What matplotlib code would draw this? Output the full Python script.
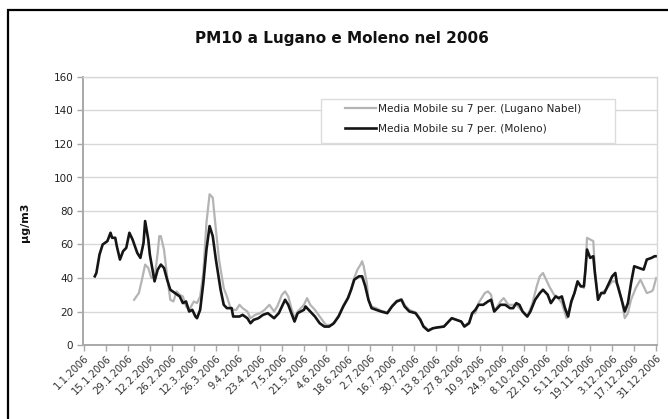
import matplotlib
matplotlib.use("Agg")
import matplotlib.pyplot as plt
from matplotlib.patches import Rectangle
from matplotlib.lines import Line2D

plt.rcParams['font.family'] = ['DejaVu Sans']

title = "PM10 a Lugano e Moleno nel 2006"
ylabel = "µg/m3"
label_lugano = "Media Mobile su 7 per. (Lugano Nabel)"
label_moleno = "Media Mobile su 7 per. (Moleno)"

tick_labels = ["1.1.2006", "15.1.2006", "29.1.2006", "12.2.2006", "26.2.2006",
               "12.3.2006", "26.3.2006", "9.4.2006", "23.4.2006", "7.5.2006",
               "21.5.2006", "4.6.2006", "18.6.2006", "2.7.2006", "16.7.2006",
               "30.7.2006", "13.8.2006", "27.8.2006", "10.9.2006", "24.9.2006",
               "8.10.2006", "22.10.2006", "5.11.2006", "19.11.2006", "3.12.2006",
               "17.12.2006", "31.12.2006"]
tick_days = [0, 14, 28, 42, 56, 70, 84, 98, 112, 126, 140, 154, 168, 182, 196,
             210, 224, 238, 252, 266, 280, 294, 308, 322, 336, 350, 364]

moleno_days = [7, 8, 10, 12, 15, 17, 18, 20, 21, 23, 25, 27, 29, 31, 34, 36, 38, 39, 41, 42,
               45, 47, 49, 51, 53, 55, 58, 61, 63, 65, 67, 69, 71, 72, 74, 76, 78, 80, 82, 84,
               87, 89, 91, 94, 95, 97, 99, 101, 104, 106, 108, 111, 114, 117, 121, 124, 128, 130,
               132, 134, 136, 140, 141, 144, 147, 150, 153, 156, 159, 162, 165, 168, 170, 172,
               175, 177, 179, 181, 183, 186, 189, 193, 196, 199, 202, 204, 207, 211, 214, 216,
               219, 222, 225, 229, 232, 234, 237, 240, 242, 245, 247, 249, 251, 254, 257, 259,
               261, 265, 268, 271, 273, 275, 277, 279, 282, 284, 287, 290, 292, 295, 297, 300,
               302, 304, 306, 308, 310, 312, 314, 316, 318, 319, 320, 322, 324, 325, 327, 329,
               331, 333, 336, 338, 339, 342, 344, 346, 348, 350, 353, 356, 358, 361, 363, 364]
moleno_vals = [41, 43, 54, 60, 62, 67, 64, 64, 59, 51, 56, 58, 67, 63, 55, 52, 61, 74, 63, 54,
               38, 45, 48, 46, 39, 33, 31, 29, 25, 26, 20, 21, 17, 16, 21, 37, 57, 71, 65, 51,
               33, 24, 22, 22, 17, 17, 17, 18, 16, 13, 15, 16, 18, 19, 16, 19, 27, 24,
               19, 14, 19, 21, 23, 20, 17, 13, 11, 11, 13, 17, 23, 28, 33, 39,
               41, 41, 35, 27, 22, 21, 20, 19, 23, 26, 27, 23, 20, 19, 15, 11,
               8.5, 10, 10.5, 11, 14, 16, 15, 14, 11, 13, 19, 21, 24, 24, 26, 27,
               20, 24, 24, 22, 22, 25, 24, 20, 17, 20, 27, 31, 33, 30, 25, 29,
               28, 29, 22, 17, 26, 31, 38, 35, 35, 45, 57, 52, 53, 43, 27, 31,
               31, 35, 41, 43, 37, 27, 20, 25, 37, 47, 46, 45, 51, 52, 53, 53]

lugano_days = [32, 35, 37, 39, 41, 43, 45, 47, 48, 49, 51, 53, 55, 57, 59, 61, 63, 65, 67, 70,
               72, 74, 76, 78, 80, 82, 84, 86, 89, 91, 93, 95, 97, 99, 101, 104, 106, 109, 112,
               115, 118, 121, 123, 126, 128, 130, 132, 134, 136, 140, 142, 144, 147, 150, 154,
               158, 162, 165, 168, 170, 172, 174, 176, 177, 178, 180, 181, 183, 186, 189, 193,
               196, 199, 202, 204, 207, 211, 214, 216, 219, 222, 225, 229, 232, 234, 237, 240,
               242, 245, 247, 249, 251, 255, 257, 259, 261, 265, 267, 270, 275, 279, 282, 285,
               288, 290, 292, 294, 296, 299, 301, 304, 307, 310, 312, 314, 318, 319, 320, 322,
               324, 325, 327, 329, 332, 336, 338, 340, 342, 344, 346, 348, 351, 354, 356, 358,
               361, 362, 364]
lugano_vals = [27, 31, 39, 48, 46, 40, 40, 55, 65, 65, 57, 41, 27, 26, 32, 30, 29, 23, 21, 26,
               25, 29, 43, 73, 90, 88, 69, 51, 34, 29, 23, 21, 21, 24, 22, 20, 16, 18, 19,
               21, 24, 20, 23, 30, 32, 29, 22, 16, 20, 24, 28, 24, 21, 17, 12,
               12, 17.5, 23.5, 28.5, 33.5, 40, 45, 48, 50, 47, 37, 27, 23, 22, 20.5, 19.5,
               23.5, 26.5, 27.5, 24, 21, 19.5, 15.5, 11.5, 9, 10, 10.5, 11, 14, 16, 15, 14,
               11.5, 13.5, 19, 19, 25, 31, 32, 30, 20, 26, 28, 24, 24, 20, 17, 24,
               35, 41, 43, 39, 35, 30, 29, 25, 16, 25, 31, 37, 34, 45, 64, 63,
               62, 45, 27, 31, 33, 38, 38, 35, 27, 16, 19, 27, 34, 39, 35, 31,
               32, 33, 40]

W, H = 668, 419
fig = plt.figure(figsize=(W / 100, H / 100), dpi=100)
fig.patch.set_facecolor("white")

# outer chart frame (cut at right and bottom)
frame_top = 1 - 10 / H
frame = Rectangle((8 / W, -0.2), 1.5, frame_top + 0.2, transform=fig.transFigure,
                  fill=False, edgecolor="black", linewidth=1.6, zorder=0)
fig.patches.append(frame)

ax = fig.add_axes([83 / W, 1 - 345 / H, (657 - 83) / W, (345 - 77) / H])
ax.set_zorder(1)

ax.plot(lugano_days, lugano_vals, color="#b4b4b4", linewidth=1.6, solid_joinstyle="round")
ax.plot(moleno_days, moleno_vals, color="#151515", linewidth=1.9, solid_joinstyle="round")

ax.set_xlim(-0.5, 364.5)
ax.set_ylim(0, 160)
ax.set_yticks(range(0, 161, 20))
ax.set_yticklabels([str(v) for v in range(0, 161, 20)], fontsize=7.5, color="#222222")
ax.set_xticks(tick_days)
ax.set_xticklabels(tick_labels, rotation=45, ha="right", va="top",
                   rotation_mode="anchor", fontsize=7.2, color="#333333")
ax.tick_params(axis="both", direction="out", length=4, width=1, color="#a8a8a8", pad=3)
ax.tick_params(axis="x", pad=2)

ax.grid(axis="y", color="#d8d8d8", linewidth=1)
ax.set_axisbelow(True)
for side in ["left", "bottom"]:
    ax.spines[side].set_color("#a8a8a8")
    ax.spines[side].set_linewidth(1.4)
for side in ["right", "top"]:
    ax.spines[side].set_color("#d8d8d8")
    ax.spines[side].set_linewidth(1.0)

fig.text(342 / W, 1 - 38 / H, title, ha="center", va="center",
         fontsize=11, fontweight="bold", color="#111111")
fig.text(25 / W, 1 - 222 / H, ylabel, ha="center", va="center", rotation=90,
         fontsize=8, fontweight="bold", color="#111111")

# legend box
lx0, lx1, ly0, ly1 = 321, 615, 99, 143
legbox = Rectangle((lx0 / W, 1 - ly1 / H), (lx1 - lx0) / W, (ly1 - ly0) / H,
                   transform=fig.transFigure, facecolor="white", edgecolor="#dcdcdc",
                   linewidth=1.0, zorder=5)
fig.patches.append(legbox)

handles = [Line2D([], [], color="#b4b4b4", linewidth=1.6),
           Line2D([], [], color="#151515", linewidth=1.9)]
leg = fig.legend(handles, [label_lugano, label_moleno], loc="upper left",
                 bbox_to_anchor=(345 / W, 1 - 104 / H), bbox_transform=fig.transFigure,
                 frameon=False, fontsize=7.6, handlelength=2.9, handletextpad=0.25,
                 labelspacing=0.95, borderpad=0, borderaxespad=0)
leg.set_zorder(6)
for t in leg.get_texts():
    t.set_color("#222222")

fig.savefig("out.png", dpi=100)
